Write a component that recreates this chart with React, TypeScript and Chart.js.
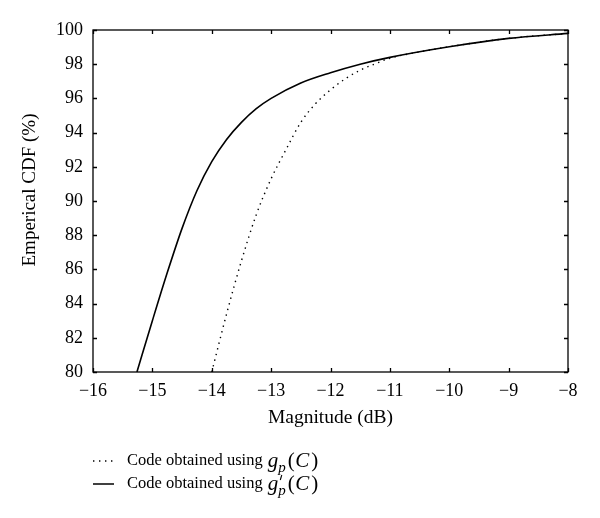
import React, { useEffect, useRef } from "react";
import { Chart, registerables } from "chart.js";

Chart.register(...registerables);

const solidX = [-15.26, -15.0, -14.75, -14.5, -14.25, -14.0, -13.75, -13.5, -13.25, -13.0, -12.5, -12.0, -11.5, -11.0, -10.0, -9.0, -8.0];
const solidY = [80, 83.0, 85.8, 88.4, 90.6, 92.3, 93.6, 94.6, 95.4, 96.0, 96.9, 97.5, 98.0, 98.4, 99.02, 99.51, 99.8];

const dottedX = [-14.0, -13.75, -13.5, -13.25, -13.0, -12.75, -12.5, -12.25, -12.0, -11.75, -11.5, -11.25, -11.0, -10.5, -10.0, -9.0, -8.0];
const dottedY = [80, 83.4, 86.5, 89.2, 91.3, 93.0, 94.6, 95.7, 96.5, 97.15, 97.65, 98.02, 98.35, 98.72, 99.02, 99.51, 99.8];

const xTickValues = [-16, -15, -14, -13, -12, -11, -10, -9, -8];
const yTickValues = [80, 82, 84, 86, 88, 90, 92, 94, 96, 98, 100];

const xTitle = "Magnitude (dB)";
const yTitle = "Emperical CDF (%)";
const legendPrefix = "Code obtained using ";

const FONT = "'Liberation Serif', 'DejaVu Serif', serif";

const framePlugin = {
  id: "frame",
  afterDatasetsDraw(chart: any) {
    const { ctx, chartArea, scales } = chart;
    const { left, right, top, bottom } = chartArea;
    ctx.save();
    ctx.strokeStyle = "#000";
    ctx.lineWidth = 1.3;
    ctx.strokeRect(left, top, right - left, bottom - top);
    const tl = 4;
    ctx.beginPath();
    xTickValues.forEach((v) => {
      const px = Math.round(scales.x.getPixelForValue(v)) + 0.5;
      ctx.moveTo(px, bottom);
      ctx.lineTo(px, bottom - tl);
      ctx.moveTo(px, top);
      ctx.lineTo(px, top + tl);
    });
    yTickValues.forEach((v) => {
      const py = Math.round(scales.y.getPixelForValue(v)) + 0.5;
      ctx.moveTo(left, py);
      ctx.lineTo(left + tl, py);
      ctx.moveTo(right, py);
      ctx.lineTo(right - tl, py);
    });
    ctx.stroke();
    ctx.restore();
  },
  afterDraw(chart: any) {
    const { ctx, chartArea } = chart;
    ctx.save();
    ctx.fillStyle = "#000";
    // axis titles
    ctx.font = `19.5px ${FONT}`;
    ctx.textAlign = "center";
    ctx.textBaseline = "middle";
    ctx.fillText(xTitle, (chartArea.left + chartArea.right) / 2, 418);
    ctx.save();
    ctx.translate(30, 190);
    ctx.rotate(-Math.PI / 2);
    ctx.font = `19px ${FONT}`;
    ctx.fillText(yTitle, 0, 0);
    ctx.restore();

    // legend
    const drawEntry = (y: number, dashed: boolean, prime: boolean) => {
      ctx.save();
      ctx.strokeStyle = "#000";
      ctx.lineWidth = dashed ? 1.4 : 1.5;
      if (dashed) ctx.setLineDash([1.4, 4.6]);
      ctx.beginPath();
      ctx.moveTo(93, y);
      ctx.lineTo(114, y);
      ctx.stroke();
      ctx.restore();
      let x = 127;
      ctx.textAlign = "left";
      ctx.textBaseline = "middle";
      ctx.font = `16.5px ${FONT}`;
      ctx.fillText(legendPrefix, x, y);
      x += ctx.measureText(legendPrefix).width + 1;
      ctx.font = `italic 21px ${FONT}`;
      ctx.fillText("g", x, y);
      const gw = ctx.measureText("g").width;
      if (prime) {
        ctx.save();
        ctx.strokeStyle = "#000";
        ctx.lineWidth = 1.1;
        ctx.beginPath();
        ctx.moveTo(x + gw + 3.5, y - 9);
        ctx.lineTo(x + gw + 2, y - 4);
        ctx.stroke();
        ctx.restore();
      }
      ctx.font = `italic 15px ${FONT}`;
      ctx.fillText("p", x + gw, y + 7);
      x += gw + ctx.measureText("p").width + 2;
      ctx.font = `21px ${FONT}`;
      ctx.fillText("(", x, y);
      x += ctx.measureText("(").width + 0.5;
      ctx.font = `italic 21px ${FONT}`;
      ctx.fillText("C", x, y);
      x += ctx.measureText("C").width + 2;
      ctx.font = `21px ${FONT}`;
      ctx.fillText(")", x, y);
    };
    drawEntry(461, true, false);
    drawEntry(484, false, true);
    ctx.restore();
  },
};

export default function App() {
  const canvasRef = useRef<HTMLCanvasElement | null>(null);

  useEffect(() => {
    if (!canvasRef.current) return;
    const solid = solidX.map((x, i) => ({ x, y: solidY[i] }));
    const dotted = dottedX.map((x, i) => ({ x, y: dottedY[i] }));
    const chart = new Chart(canvasRef.current, {
      type: "line",
      data: {
        datasets: [
          {
            label: "Code obtained using g_p(C)",
            data: dotted,
            borderColor: "#000",
            borderWidth: 1.4,
            borderDash: [1.4, 4.4],
            pointRadius: 0,
            fill: false,
            cubicInterpolationMode: "monotone",
          },
          {
            label: "Code obtained using g'_p(C)",
            data: solid,
            borderColor: "#000",
            borderWidth: 1.6,
            pointRadius: 0,
            fill: false,
            cubicInterpolationMode: "monotone",
          },
        ],
      },
      options: {
        animation: false,
        responsive: true,
        maintainAspectRatio: false,
        layout: { padding: { left: 0, right: 32, top: 30, bottom: 106 } },
        plugins: {
          legend: { display: false },
          tooltip: { enabled: false },
        },
        scales: {
          x: {
            type: "linear",
            min: -16,
            max: -8,
            afterFit: (s: any) => {
              s.height = 40;
            },
            afterBuildTicks: (s: any) => {
              s.ticks = xTickValues.map((v) => ({ value: v }));
            },
            grid: { display: false, drawTicks: false },
            border: { display: false },
            ticks: {
              padding: 8,
              color: "#000",
              font: { family: FONT, size: 18 },
              callback: (v: any) => String(v).replace("-", "\u2212"),
            },
          },
          y: {
            type: "linear",
            min: 80,
            max: 100,
            afterFit: (s: any) => {
              s.width = 93;
            },
            afterBuildTicks: (s: any) => {
              s.ticks = yTickValues.map((v) => ({ value: v }));
            },
            grid: { display: false, drawTicks: false },
            border: { display: false },
            ticks: {
              padding: 10,
              color: "#000",
              font: { family: FONT, size: 18 },
            },
          },
        },
      },
      plugins: [framePlugin],
    });
    return () => chart.destroy();
  }, []);

  return (
    <div style={{ position: "fixed", left: 0, top: 0, width: 600, height: 518, background: "#fff" }}>
      <canvas ref={canvasRef} />
    </div>
  );
}
